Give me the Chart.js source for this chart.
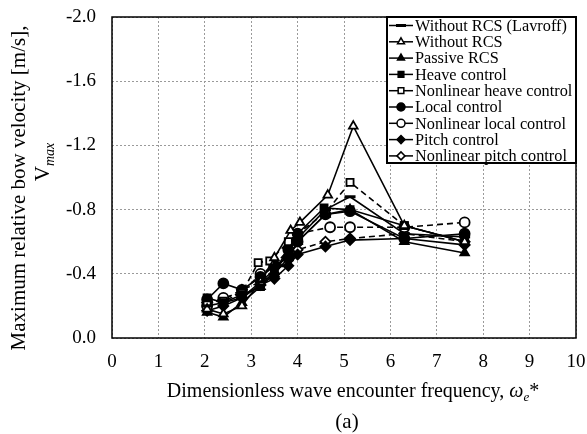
<!DOCTYPE html>
<html>
<head>
<meta charset="utf-8">
<script src="https://cdn.jsdelivr.net/npm/chart.js@4/dist/chart.umd.min.js"></script>
<style>
  html, body { margin: 0; padding: 0; background: #fff; }
  #wrap { width: 587px; height: 434px; position: relative; }
</style>
</head>
<body>
<div id="wrap"><canvas id="chart"></canvas></div>
<script>
// ---- Data -----------------------------------------------------------------

const X_TICKS = [0, 1, 2, 3, 4, 5, 6, 7, 8, 9, 10];
const Y_TICKS = [-2.0, -1.6, -1.2, -0.8, -0.4, 0.0];

const LABELS = [
  "Without RCS (Lavroff)",
  "Without RCS",
  "Passive RCS",
  "Heave control",
  "Nonlinear heave control",
  "Local control",
  "Nonlinear local control",
  "Pitch control",
  "Nonlinear pitch control",
];

const lavroffX = [2.05, 2.4, 2.8, 3.2, 3.6, 4.0, 4.6, 5.13, 6.3, 7.6];
const lavroffY = [-0.2, -0.22, -0.25, -0.35, -0.45, -0.62, -0.8, -0.88, -0.65, -0.63];

const noRcsX = [2.05, 2.4, 2.8, 3.2, 3.5, 3.85, 4.05, 4.65, 5.2, 6.3, 7.6];
const noRcsY = [-0.18, -0.15, -0.2, -0.35, -0.5, -0.67, -0.72, -0.89, -1.32, -0.7, -0.6];

const passiveX = [2.05, 2.4, 2.8, 3.2, 3.5, 3.8, 4.0, 4.6, 5.13, 6.3, 7.6];
const passiveY = [-0.16, -0.13, -0.22, -0.32, -0.4, -0.5, -0.6, -0.77, -0.8, -0.6, -0.53];

const heaveX = [2.05, 2.4, 2.8, 3.2, 3.5, 3.8, 4.0, 4.57, 5.13, 6.3, 7.6];
const heaveY = [-0.25, -0.22, -0.27, -0.32, -0.42, -0.55, -0.65, -0.81, -0.8, -0.7, -0.6];

const nlHeaveX = [2.05, 2.4, 2.8, 3.15, 3.4, 3.8, 4.0, 4.6, 5.13, 6.3, 7.6];
const nlHeaveY = [-0.22, -0.23, -0.28, -0.47, -0.48, -0.6, -0.65, -0.78, -0.97, -0.7, -0.6];

const localX = [2.05, 2.4, 2.8, 3.2, 3.5, 3.8, 4.0, 4.6, 5.13, 6.3, 7.6];
const localY = [-0.24, -0.34, -0.3, -0.38, -0.45, -0.5, -0.6, -0.77, -0.79, -0.62, -0.65];

const nlLocalX = [2.05, 2.4, 2.8, 3.2, 3.5, 3.8, 4.0, 4.7, 5.13, 6.3, 7.6];
const nlLocalY = [-0.2, -0.25, -0.28, -0.4, -0.45, -0.55, -0.65, -0.69, -0.69, -0.69, -0.72];

const pitchX = [2.05, 2.4, 2.8, 3.2, 3.5, 3.8, 4.0, 4.6, 5.13, 6.3, 7.6];
const pitchY = [-0.17, -0.2, -0.25, -0.33, -0.37, -0.45, -0.52, -0.57, -0.61, -0.62, -0.58];

const nlPitchX = [2.05, 2.4, 2.8, 3.2, 3.5, 3.8, 4.0, 4.6, 5.13, 6.3, 7.6];
const nlPitchY = [-0.22, -0.24, -0.3, -0.35, -0.4, -0.5, -0.55, -0.6, -0.62, -0.65, -0.6];

// ---- Helpers --------------------------------------------------------------

const SERIF = "'Liberation Serif', 'Times New Roman', serif";

function pts(xs, ys) {
  return xs.map((x, i) => ({ x, y: ys[i] }));
}

function series(i, xs, ys, style, filled, dashed) {
  return {
    label: LABELS[i],
    data: pts(xs, ys),
    borderColor: "#000",
    borderWidth: 1.6,
    borderDash: dashed ? [6, 4] : [],
    pointStyle: style,
    pointRadius: style === "line" ? 5.5 : 5,
    pointBorderWidth: style === "line" ? 3 : 1.8,
    pointBorderColor: "#000",
    pointBackgroundColor: filled ? "#000" : "#fff",
    showLine: true,
    fill: false,
    tension: 0,
  };
}

const datasets = [
  series(0, lavroffX, lavroffY, "line", true, false),
  series(1, noRcsX, noRcsY, "triangle", false, false),
  series(2, passiveX, passiveY, "triangle", true, false),
  series(3, heaveX, heaveY, "rect", true, false),
  series(4, nlHeaveX, nlHeaveY, "rect", false, true),
  series(5, localX, localY, "circle", true, false),
  series(6, nlLocalX, nlLocalY, "circle", false, true),
  series(7, pitchX, pitchY, "rectRot", true, false),
  series(8, nlPitchX, nlPitchY, "rectRot", false, true),
];

// no extra overhang padding from the tick labels; layout.padding decides
function noOverhang(s) {
  s.paddingTop = 0;
  s.paddingBottom = 0;
  s.paddingLeft = 0;
  s.paddingRight = 0;
}

// ---- Frame, titles and boxed legend --------------------------------------

const decor = {
  id: "decor",
  afterDraw(chart) {
    const { ctx, chartArea: a } = chart;
    ctx.save();

    // plot frame
    ctx.strokeStyle = "#000";
    ctx.lineWidth = 1.5;
    ctx.strokeRect(a.left, a.top, a.right - a.left, a.bottom - a.top);

    ctx.fillStyle = "#000";
    ctx.textBaseline = "alphabetic";

    // x title with italic omega_e
    const xt = "Dimensionless wave encounter frequency, ";
    ctx.font = `20px ${SERIF}`;
    const w1 = ctx.measureText(xt).width;
    ctx.font = `italic 20px ${SERIF}`;
    const w2 = ctx.measureText("ω").width;
    ctx.font = `italic 13px ${SERIF}`;
    const w3 = ctx.measureText("e").width;
    ctx.font = `20px ${SERIF}`;
    const w4 = ctx.measureText("*").width;
    let x = 353 - (w1 + w2 + w3 + w4) / 2;
    const yb = 397;
    ctx.textAlign = "left";
    ctx.fillText(xt, x, yb); x += w1;
    ctx.font = `italic 20px ${SERIF}`;
    ctx.fillText("ω", x, yb); x += w2;
    ctx.font = `italic 13px ${SERIF}`;
    ctx.fillText("e", x, yb + 4); x += w3;
    ctx.font = `20px ${SERIF}`;
    ctx.fillText("*", x, yb);

    // panel label
    ctx.font = `21px ${SERIF}`;
    ctx.textAlign = "center";
    ctx.fillText("(a)", 347, 428);

    // y title, rotated, two lines
    ctx.save();
    ctx.translate(25, 188);
    ctx.rotate(-Math.PI / 2);
    ctx.font = `21px ${SERIF}`;
    ctx.textAlign = "center";
    ctx.fillText("Maximum relative bow velocity [m/s],", 0, 0);
    const vw = ctx.measureText("V").width;
    ctx.font = `italic 14px ${SERIF}`;
    const mw = ctx.measureText("max").width;
    const sx = 26 - (vw + mw) / 2;
    ctx.font = `21px ${SERIF}`;
    ctx.textAlign = "left";
    ctx.fillText("V", sx, 24);
    ctx.font = `italic 14px ${SERIF}`;
    ctx.fillText("max", sx + vw, 29);
    ctx.restore();

    // legend box
    const lx = 387, ly = a.top, lw = a.right - lx, lh = 146;
    ctx.fillStyle = "#fff";
    ctx.fillRect(lx, ly, lw, lh);
    ctx.strokeStyle = "#000";
    ctx.lineWidth = 2;
    ctx.strokeRect(lx, ly, lw, lh);

    ctx.font = `16.3px ${SERIF}`;
    ctx.textAlign = "left";
    ctx.textBaseline = "middle";
    chart.data.datasets.forEach((ds, i) => {
      const ry = ly + 8.5 + i * 16.3;
      ctx.strokeStyle = "#000";
      ctx.lineWidth = 1.5;
      ctx.setLineDash([]);
      ctx.beginPath();
      ctx.moveTo(lx + 2, ry);
      ctx.lineTo(lx + 26, ry);
      ctx.stroke();
      ctx.fillStyle = ds.pointBackgroundColor;
      ctx.strokeStyle = "#000";
      ctx.lineWidth = ds.pointStyle === "line" ? 3 : 1.5;
      Chart.helpers.drawPoint(ctx, {
        pointStyle: ds.pointStyle,
        radius: ds.pointStyle === "line" ? 5 : 4,
        borderWidth: ds.pointStyle === "line" ? 3 : 1.5,
        rotation: 0,
      }, lx + 14, ry);
      ctx.fillStyle = "#000";
      ctx.fillText(ds.label, lx + 28, ry + 1);
    });
    ctx.restore();
  },
};

new Chart(document.getElementById("chart"), {
  type: "scatter",
  data: { datasets },
  options: {
    responsive: true,
    maintainAspectRatio: false,
    animation: false,
    layout: { padding: { top: 17, right: 11, left: 0, bottom: 0 } },
    plugins: { legend: { display: false }, tooltip: { enabled: false } },
    scales: {
      x: {
        type: "linear",
        min: 0,
        max: 10,
        afterBuildTicks: (s) => { s.ticks = X_TICKS.map((v) => ({ value: v })); },
        afterFit: (s) => { s.height = 96; noOverhang(s); },
        ticks: {
          color: "#000",
          padding: 13,
          maxRotation: 0,
          font: { family: SERIF, size: 19 },
          callback: (v) => String(v),
        },
        grid: { color: "#9a9a9a", lineWidth: 1, drawTicks: false },
        border: { display: false, dash: [2, 2] },
      },
      y: {
        type: "linear",
        min: -2,
        max: 0,
        reverse: true,
        afterBuildTicks: (s) => { s.ticks = Y_TICKS.map((v) => ({ value: v })); },
        afterFit: (s) => { s.width = 112; noOverhang(s); },
        ticks: {
          color: "#000",
          padding: 16,
          font: { family: SERIF, size: 19 },
          callback: (v) => Number(v).toFixed(1),
        },
        grid: { color: "#9a9a9a", lineWidth: 1, drawTicks: false },
        border: { display: false, dash: [2, 2] },
      },
    },
  },
  plugins: [decor],
});
</script>
</body>
</html>
